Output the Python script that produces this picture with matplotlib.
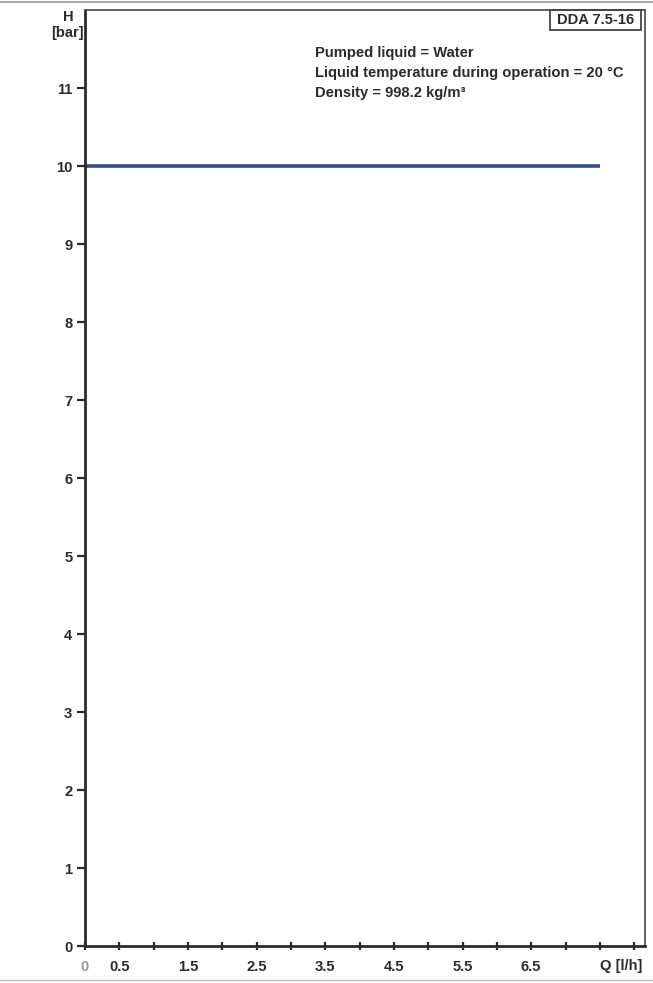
import matplotlib
matplotlib.use("Agg")
import matplotlib.pyplot as plt
from matplotlib.lines import Line2D
from matplotlib.patches import Rectangle

# Pump curve data: flow Q [l/h] vs pressure H [bar]
q_flow = [0.0, 7.5]
h_bar = [10.0, 10.0]

y_ticks = [0, 1, 2, 3, 4, 5, 6, 7, 8, 9, 10, 11]
x_ticks = [0, 0.5, 1, 1.5, 2, 2.5, 3, 3.5, 4, 4.5, 5, 5.5, 6, 6.5, 7, 7.5, 8]
x_tick_labels = ["0", "0.5", "", "1.5", "", "2.5", "", "3.5", "", "4.5", "", "5.5",
                 "", "6.5", "", "", ""]

model = "DDA 7.5-16"
info_lines = ["Pumped liquid = Water",
              "Liquid temperature during operation = 20 °C",
              "Density = 998.2 kg/m³"]

plt.rcParams["font.family"] = ["Liberation Sans", "DejaVu Sans"]
ink = "#2b2b2b"
fs = 10.6

fig = plt.figure(figsize=(6.53, 9.83), dpi=100)
ax = fig.add_axes([0.130, 0.0376, 0.858, 0.9522])
ax.set_xlim(0, 8.16)
ax.set_ylim(0, 12)

ax.plot(q_flow, h_bar, color="#2c4e8c", lw=2.6, solid_capstyle="butt")

for side in ["left", "bottom"]:
    ax.spines[side].set_linewidth(2.0)
    ax.spines[side].set_color(ink)
for side in ["top", "right"]:
    ax.spines[side].set_linewidth(1.3)
    ax.spines[side].set_color("#555555")

ax.set_yticks(y_ticks)
ax.set_yticklabels([str(v) for v in y_ticks], fontsize=fs, fontweight="bold", color=ink)
ax.set_xticks(x_ticks)
ax.set_xticklabels(x_tick_labels, fontsize=fs, fontweight="bold", color=ink)
ax.xaxis.get_ticklabels()[0].set_color("#9a9a9a")
ax.tick_params(axis="y", direction="out", length=6, width=1.6, color=ink, pad=3)
ax.tick_params(axis="x", direction="inout", length=6, width=1.6, color=ink, pad=7)

# Axis titles
fig.text(68 / 653, 1 - 17 / 983, "H", ha="center", va="center", fontsize=fs,
         fontweight="bold", color=ink)
fig.text(67 / 653, 1 - 33 / 983, "[bar]", ha="center", va="center", fontsize=fs,
         fontweight="bold", color=ink)
fig.text(621 / 653, 1 - 966 / 983, "Q [l/h]", ha="center", va="center", fontsize=fs,
         fontweight="bold", color=ink)

# Model box in the upper right corner
box_l, box_r = 550 / 653, 641 / 653
box_b, box_t = 1 - 30 / 983, 1 - 10 / 983
fig.add_artist(Rectangle((box_l, box_b), box_r - box_l, box_t - box_b,
                         transform=fig.transFigure, fill=False, lw=1.3,
                         edgecolor="#444444"))
fig.text((box_l + box_r) / 2, (box_b + box_t) / 2, model, ha="center", va="center",
         fontsize=fs, fontweight="bold", color=ink)

for i, line in enumerate(info_lines):
    fig.text(315 / 653, 1 - (53 + 20 * i) / 983, line, ha="left", va="center",
             fontsize=fs, fontweight="bold", color=ink)

# Page edges
fig.add_artist(Line2D([0, 1], [1 - 1.5 / 983] * 2, transform=fig.transFigure,
                      color="#9a9a9a", lw=1.2))
fig.add_artist(Line2D([0, 1], [1 - 980 / 983] * 2, transform=fig.transFigure,
                      color="#bdbdbd", lw=1.0))

fig.savefig("out.png", dpi=100)
